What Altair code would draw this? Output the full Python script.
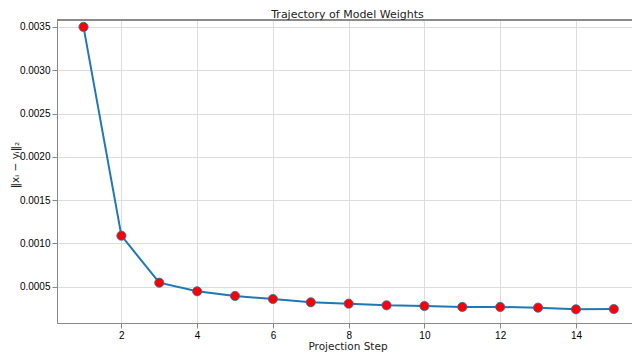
import altair as alt
import pandas as pd

steps = [1, 2, 3, 4, 5, 6, 7, 8, 9, 10, 11, 12, 13, 14, 15]
distance = [0.00350, 0.001089, 0.000546, 0.000447, 0.000393, 0.000358, 0.000320,
            0.000304, 0.000285, 0.000277, 0.000266, 0.000266, 0.000258, 0.000239, 0.000242]
x_ticks = [2, 4, 6, 8, 10, 12, 14]
y_ticks = [0.0005, 0.0010, 0.0015, 0.0020, 0.0025, 0.0030, 0.0035]
title_text = ["Trajectory of Model Weights"]
x_title = ["Projection Step"]
y_title = ["‖xᵢ − yᵢ‖₂"]

df = pd.DataFrame({"step": steps, "dist": distance})

FONT = "DejaVu Sans"
W, H = 575, 303

x_enc = alt.X("step:Q",
              scale=alt.Scale(domain=[0.3, 15.48], nice=False, zero=False),
              axis=alt.Axis(values=x_ticks, title=None, format="d"))
y_enc = alt.Y("dist:Q",
              scale=alt.Scale(domain=[0.0000808, 0.0035797], nice=False, zero=False),
              axis=alt.Axis(values=y_ticks, format=".4f", title=None))

line = alt.Chart(df).mark_line(color="#1f77b4", strokeWidth=2).encode(x=x_enc, y=y_enc)
pts = alt.Chart(df).mark_point(filled=True, shape="circle", size=85, fill="#ff0000",
                               stroke="#1f77b4", strokeWidth=0.8, opacity=1).encode(x=x_enc, y=y_enc)
top = alt.Chart(df).mark_rule(color="#8a8a8a", strokeWidth=1.5).encode(
    x=alt.value(0), x2=alt.value(W), y=alt.value(0))

t_title = alt.Chart(pd.DataFrame({"t": title_text})).mark_text(
    font=FONT, fontSize=11, color="#222222", align="center", baseline="alphabetic"
).encode(text="t:N", x=alt.value(W / 2 + 3), y=alt.value(-2))
t_x = alt.Chart(pd.DataFrame({"t": x_title})).mark_text(
    font=FONT, fontSize=10.5, color="#222222", align="center", baseline="alphabetic"
).encode(text="t:N", x=alt.value(291), y=alt.value(H + 27))
t_y = alt.Chart(pd.DataFrame({"t": y_title})).mark_text(
    font=FONT, fontSize=10.5, color="#222222", align="center", baseline="alphabetic",
    angle=270
).encode(text="t:N", x=alt.value(-38), y=alt.value(145))

chart = alt.layer(line, pts, top, t_title, t_x, t_y).properties(
    width=W, height=H,
    autosize=alt.AutoSizeParams(type="none"),
    padding={"left": 49, "top": 12, "right": 0, "bottom": 30},
).configure_view(stroke=None).configure_axis(
    domain=False, grid=True, gridColor="#d0d0d0", gridWidth=1,
    tickColor="#b0b0b0", tickSize=3.5, tickWidth=1,
    labelFont=FONT, labelFontSize=9.5, labelColor="#222222", labelPadding=2,
).configure(background="white")

chart.save("out.html", embed_options={"renderer": "svg", "actions": False})
